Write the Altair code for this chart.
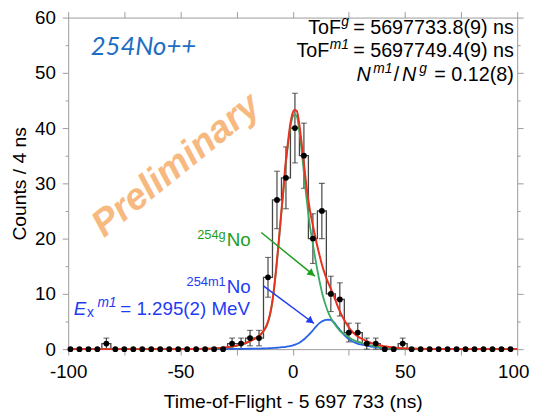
import altair as alt
import pandas as pd

# ---------------- data ----------------
bin_centers = list(range(-99, 98, 4))          # 50 bins, 4 ns wide
counts = [0, 0, 0, 0, 1, 0, 0, 0, 0, 0,
          0, 0, 0, 0, 0, 0, 0, 0, 1, 1,
          2, 2, 13, 27, 31, 40, 35, 20, 25, 10,
          9, 3, 3, 1, 1, 0, 0, 1, 0, 0,
          0, 0, 0, 0, 0, 0, 0, 0, 0, 0]
errors = [0, 0, 0, 0, 1, 0, 0, 0, 0, 0,
          0, 0, 0, 0, 0, 0, 0, 0, 1, 1,
          1.4, 1.4, 3.6, 5.2, 5.6, 6.3, 5.9, 4.5, 5.0, 3.2,
          3.0, 1.7, 1.7, 1, 1, 0, 0, 1, 0, 0,
          0, 0, 0, 0, 0, 0, 0, 0, 0, 0]

curve_x = [-100, -60, -44.2, -39.2, -34.2, -29.2, -24.2, -19.2, -16.2, -14.2,
           -12.2, -11.2, -10.2, -9.2, -8.2, -7.2, -6.2, -5.2, -4.2, -3.2,
           -2.2, -1.2, -0.2, 0.8, 1.8, 2.8, 3.8, 4.8, 5.8, 6.8,
           7.8, 8.8, 9.8, 10.8, 11.8, 12.8, 13.8, 14.8, 15.8, 16.8,
           17.8, 18.8, 19.8, 20.8, 22.8, 24.8, 26.8, 28.8, 30.8, 33.8,
           36.8, 40.8, 45.8, 50.8, 60.8, 100]
fit_g = [0, 0, 0.03, 0.06, 0.12, 0.3, 0.68, 1.35, 2.0, 2.6,
         3.7, 4.6, 6.0, 8.1, 11.2, 15.0, 19.3, 23.9, 28.3, 33.0,
         36.6, 39.8, 41.8, 42.5, 42.2, 40.0, 36.6, 32.7, 28.6, 25.0,
         22.0, 19.5, 17.0, 14.7, 12.6, 10.7, 9.1, 7.8, 6.7, 5.8,
         5.1, 4.5, 3.9, 3.4, 2.8, 2.2, 1.7, 1.35, 1.08, 0.75,
         0.5, 0.3, 0.15, 0.07, 0.02, 0]
fit_m1 = [0, 0, 0.01, 0.01, 0.02, 0.03, 0.05, 0.07, 0.09, 0.11,
          0.13, 0.15, 0.17, 0.19, 0.22, 0.25, 0.29, 0.33, 0.37, 0.42,
          0.48, 0.56, 0.65, 0.77, 0.92, 1.12, 1.38, 1.7, 2.05, 2.45,
          2.85, 3.3, 3.8, 4.25, 4.65, 4.95, 5.15, 5.28, 5.32, 5.28,
          5.05, 4.65, 4.1, 3.6, 2.6, 1.85, 1.35, 1.0, 0.8, 0.55,
          0.38, 0.22, 0.12, 0.06, 0.02, 0]
fit_total = [0, 0, 0.04, 0.07, 0.14, 0.33, 0.73, 1.42, 2.09, 2.71,
             3.83, 4.75, 6.17, 8.29, 11.42, 15.25, 19.59, 24.23, 28.67, 33.42,
             37.08, 40.36, 42.45, 43.27, 43.12, 41.12, 37.98, 34.4, 30.65, 27.45,
             24.85, 22.8, 20.8, 18.95, 17.25, 15.65, 14.25, 13.08, 12.02, 11.08,
             10.15, 9.15, 8.0, 7.0, 5.4, 4.05, 3.05, 2.35, 1.88, 1.3,
             0.88, 0.52, 0.27, 0.13, 0.04, 0]

x_ticks = [-100, -75, -50, -25, 0, 25, 50, 75, 100]
y_ticks = [0, 5, 10, 15, 20, 25, 30, 35, 40, 45, 50, 55, 60]

# ---------------- styling ----------------
FONT = "Liberation Sans"
GRAY = "#9a9a9a"
RED = "#e8321f"
GREEN_FIT = "#3aaa62"
GREEN_TXT = "#1e9e1e"
BLUE_FIT = "#2a62e6"
BLUE_TXT = "#1f3cf2"

xs = alt.Scale(domain=[-100, 100], nice=False, zero=False, padding=0)
ys = alt.Scale(domain=[0, 60], nice=False, zero=False, padding=0)
NOX = dict(axis=None, scale=xs)
NOY = dict(axis=None, scale=ys)

hist = pd.DataFrame({"x": bin_centers, "n": counts, "e": errors})
hist["lo"] = hist["n"] - hist["e"]
hist["hi"] = hist["n"] + hist["e"]
ebars = hist[hist["e"] > 0]

curves = pd.DataFrame({"x": curve_x, "g": fit_g, "m": fit_m1, "t": fit_total})

ytick_size = {"condition": {"test": "datum.value % 10 === 0", "value": 6}, "value": 3}
xlabel_shift = {"condition": {"test": "datum.value === 100", "value": -4}, "value": 0}

bottom_axis = alt.Axis(values=x_ticks, labelExpr="datum.value % 50 === 0 ? '' + datum.value : ''",
                       tickSize=6, labelPadding=8, labelFontSize=19, labelFont=FONT, labelColor="black",
                       labelFlush=False, labelOffset=xlabel_shift,
                       domainColor=GRAY, tickColor=GRAY, grid=False,
                       title="Time-of-Flight - 5 697 733 (ns)", titleFont=FONT, titleFontSize=19.5,
                       titleFontWeight="normal", titleColor="black", titlePadding=11)
left_axis = alt.Axis(values=y_ticks, labelExpr="datum.value % 10 === 0 ? '' + datum.value : ''",
                     tickSize=ytick_size, labelPadding=7, labelFontSize=19, labelFont=FONT, labelColor="black",
                     labelFlush=False, domainColor=GRAY, tickColor=GRAY, grid=False,
                     title="Counts / 4 ns", titleFont=FONT, titleFontSize=19.5,
                     titleFontWeight="normal", titleColor="black", titlePadding=5)
top_axis = alt.Axis(orient="top", values=x_ticks, labels=False, tickSize=6, domainColor=GRAY,
                    tickColor=GRAY, grid=False, title=None)
right_axis = alt.Axis(orient="right", values=y_ticks, labels=False, tickSize=ytick_size,
                      domainColor=GRAY, tickColor=GRAY, grid=False, title=None)

steps = alt.Chart(hist).mark_line(interpolate="step", color="#444444", strokeWidth=1.3).encode(
    x=alt.X("x:Q", axis=bottom_axis, scale=xs), y=alt.Y("n:Q", axis=left_axis, scale=ys))

frame = alt.Chart(hist).mark_point(opacity=0).encode(
    x=alt.X("x:Q", axis=top_axis, scale=xs), y=alt.Y("n:Q", axis=right_axis, scale=ys))

err_rules = alt.Chart(ebars).mark_rule(color="#333333", strokeWidth=1.1).encode(
    x=alt.X("x:Q", **NOX), y=alt.Y("lo:Q", **NOY), y2="hi:Q")
cap_lo = alt.Chart(ebars).mark_tick(orient="horizontal", size=6, thickness=1.1, color="#333333").encode(
    x=alt.X("x:Q", **NOX), y=alt.Y("lo:Q", **NOY))
cap_hi = alt.Chart(ebars).mark_tick(orient="horizontal", size=6, thickness=1.1, color="#333333").encode(
    x=alt.X("x:Q", **NOX), y=alt.Y("hi:Q", **NOY))

line_m = alt.Chart(curves).mark_line(interpolate="monotone", color=BLUE_FIT, strokeWidth=1.8).encode(
    x=alt.X("x:Q", **NOX), y=alt.Y("m:Q", **NOY))
line_g = alt.Chart(curves).mark_line(interpolate="monotone", color=GREEN_FIT, strokeWidth=1.8).encode(
    x=alt.X("x:Q", **NOX), y=alt.Y("g:Q", **NOY))
line_t = alt.Chart(curves).mark_line(interpolate="monotone", color=RED, strokeWidth=2).encode(
    x=alt.X("x:Q", **NOX), y=alt.Y("t:Q", **NOY))

pts = alt.Chart(hist).mark_point(filled=True, color="black", size=34, opacity=1).encode(
    x=alt.X("x:Q", **NOX), y=alt.Y("n:Q", **NOY))

# ---------------- annotations ----------------
arrow_start_x = [-14.0, -13.2]
arrow_start_y = [21.1, 11.5]
arrow_end_x = [9.9, 9.5]
arrow_end_y = [13.2, 4.64]
head_x = [8.5, 8.1]
head_y = [13.66, 5.07]
head_angle = [39, 37]
arrow_color = [GREEN_TXT, BLUE_TXT]


def arrow(i):
    d = pd.DataFrame({"x": [arrow_start_x[i]], "y": [arrow_start_y[i]],
                      "x2": [arrow_end_x[i]], "y2": [arrow_end_y[i]],
                      "hx": [head_x[i]], "hy": [head_y[i]]})
    r = alt.Chart(d).mark_rule(color=arrow_color[i], strokeWidth=1.5).encode(
        x=alt.X("x:Q", **NOX), y=alt.Y("y:Q", **NOY), x2="x2:Q", y2="y2:Q")
    h = alt.Chart(d).mark_point(shape="triangle-right", filled=True, size=70, opacity=1,
                                angle=head_angle[i], color=arrow_color[i]).encode(
        x=alt.X("hx:Q", **NOX), y=alt.Y("hy:Q", **NOY))
    return r + h


def label(x, y, txt, **mk):
    d = pd.DataFrame({"x": [x], "y": [y], "t": [txt]})
    mk.setdefault("font", FONT)
    return alt.Chart(d).mark_text(**mk).encode(
        x=alt.X("x:Q", **NOX), y=alt.Y("y:Q", **NOY), text="t:N")


TR_X = 98.5
tr_lines_y = [57.0, 52.8, 48.6]   # baselines of the three right-hand lines
TRF = 20
SUP = 14

texts = [
    label(-90.0, 54.6, "254No++", fontSize=26, fontStyle="italic", font="Lato", color="#1e6ec4",
          align="left", baseline="middle"),
    label(-51.8, 33.2, "Preliminary", fontSize=38, fontStyle="italic", fontWeight="bold",
          color="#f6a860", opacity=0.8, angle=321, align="center", baseline="middle"),
    # 254g No
    label(-29.4, 18.6, "No", fontSize=19, color=GREEN_TXT, align="left", baseline="alphabetic"),
    label(-29.4, 18.6, "254g", fontSize=13, color=GREEN_TXT, align="right", baseline="alphabetic",
          dx=-1, dy=-7),
    # 254m1 No
    label(-29.4, 10.2, "No", fontSize=19, color=BLUE_TXT, align="left", baseline="alphabetic"),
    label(-29.4, 10.2, "254m1", fontSize=13, color=BLUE_TXT, align="right", baseline="alphabetic",
          dx=-1, dy=-7),
    # Ex m1 = 1.295(2) MeV
    label(-97.5, 6.25, "E", fontSize=19, fontStyle="italic", color=BLUE_TXT, align="left",
          baseline="alphabetic"),
    label(-91.6, 5.8, "x", fontSize=14, color=BLUE_TXT, align="left", baseline="alphabetic"),
    label(-87.0, 7.7, "m1", fontSize=14, fontStyle="italic", color=BLUE_TXT, align="left",
          baseline="alphabetic"),
    label(-76.8, 6.25, "= 1.295(2) MeV", fontSize=19, color=BLUE_TXT, align="left",
          baseline="alphabetic"),
    # top-right block
    label(TR_X, tr_lines_y[0], "= 5697733.8(9) ns", fontSize=TRF, color="black", align="right",
          baseline="alphabetic"),
    label(TR_X, tr_lines_y[0], "g", fontSize=SUP, fontStyle="italic", color="black", align="right",
          baseline="alphabetic", dx=-167, dy=-8),
    label(TR_X, tr_lines_y[0], "ToF", fontSize=TRF, color="black", align="right",
          baseline="alphabetic", dx=-175),
    label(TR_X, tr_lines_y[1], "= 5697749.4(9) ns", fontSize=TRF, color="black", align="right",
          baseline="alphabetic"),
    label(TR_X, tr_lines_y[1], "m1", fontSize=SUP, fontStyle="italic", color="black", align="right",
          baseline="alphabetic", dx=-167, dy=-8),
    label(TR_X, tr_lines_y[1], "ToF", fontSize=TRF, color="black", align="right",
          baseline="alphabetic", dx=-187),
    label(TR_X, tr_lines_y[2], "= 0.12(8)", fontSize=TRF, color="black", align="right",
          baseline="alphabetic"),
    label(TR_X, tr_lines_y[2], "g", fontSize=SUP, fontStyle="italic", color="black", align="right",
          baseline="alphabetic", dx=-88, dy=-8),
    label(TR_X, tr_lines_y[2], "N", fontSize=TRF, fontStyle="italic", color="black", align="right",
          baseline="alphabetic", dx=-99),
    label(TR_X, tr_lines_y[2], "/", fontSize=TRF, color="black", align="right",
          baseline="alphabetic", dx=-116),
    label(TR_X, tr_lines_y[2], "m1", fontSize=SUP, fontStyle="italic", color="black", align="right",
          baseline="alphabetic", dx=-123, dy=-8),
    label(TR_X, tr_lines_y[2], "N", fontSize=TRF, fontStyle="italic", color="black", align="right",
          baseline="alphabetic", dx=-145),
]

chart = alt.layer(
    steps, frame, err_rules, cap_lo, cap_hi, line_m, line_g, line_t, pts,
    arrow(0), arrow(1), *texts
).resolve_axis(x="independent", y="independent").properties(
    width=455, height=336,
    padding={"left": 61, "top": 7, "right": 14, "bottom": 61},
    autosize=alt.AutoSizeParams(type="none"),
).configure_view(stroke=None)

chart.save("out.html", embed_options={"renderer": "svg", "actions": False})
